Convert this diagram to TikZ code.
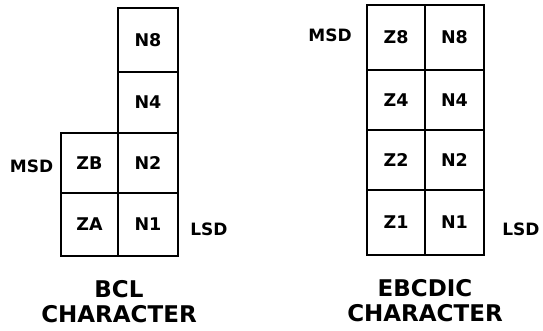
\documentclass[tikz,border=0pt]{standalone}
\usepackage{fontspec}
\setmainfont{DejaVu Sans}
\begin{document}
\begin{tikzpicture}[x=1pt,y=-1pt,
  cell/.style={draw,line width=2pt,inner sep=0pt,font=\bfseries\fontsize{17.5}{19}\selectfont},
  lbl/.style={inner sep=0pt,font=\bfseries\fontsize{17}{19}\selectfont},
  captext/.style={inner sep=0pt,align=center,font=\bfseries\fontsize{23}{25}\selectfont}]
\useasboundingbox (0,0) rectangle (543,330);
% BCL
\node[cell,minimum width=60pt,minimum height=64pt] (bn8) at (148,40) {N8};
\node[cell,minimum width=60pt,minimum height=61pt] (bn4) at (148,102.5) {N4};
\node[cell,minimum width=60pt,minimum height=60pt] (bn2) at (148,163) {N2};
\node[cell,minimum width=60pt,minimum height=63pt] (bn1) at (148,224.5) {N1};
\node[cell,minimum width=57pt,minimum height=60pt] (bzb) at (89.5,163) {ZB};
\node[cell,minimum width=57pt,minimum height=63pt] (bza) at (89.5,224.5) {ZA};
\node[lbl] (bmsd) at (31.5,166) {MSD};
\node[lbl] (blsd) at (209,229) {LSD};
\node[captext] (bcap) at (119,302) {BCL\\CHARACTER};
% EBCDIC
\node[cell,minimum width=58pt,minimum height=65pt] (ez8) at (396,37.5) {Z8};
\node[cell,minimum width=58pt,minimum height=60pt] (ez4) at (396,100) {Z4};
\node[cell,minimum width=58pt,minimum height=60pt] (ez2) at (396,160) {Z2};
\node[cell,minimum width=58pt,minimum height=65pt] (ez1) at (396,222.5) {Z1};
\node[cell,minimum width=59pt,minimum height=65pt] (en8) at (454.5,37.5) {N8};
\node[cell,minimum width=59pt,minimum height=60pt] (en4) at (454.5,100) {N4};
\node[cell,minimum width=59pt,minimum height=60pt] (en2) at (454.5,160) {N2};
\node[cell,minimum width=59pt,minimum height=65pt] (en1) at (454.5,222.5) {N1};
\node[lbl] (emsd) at (330,35) {MSD};
\node[lbl] (elsd) at (521,229) {LSD};
\node[captext] (ecap) at (425,301) {EBCDIC\\CHARACTER};
\end{tikzpicture}
\end{document}
